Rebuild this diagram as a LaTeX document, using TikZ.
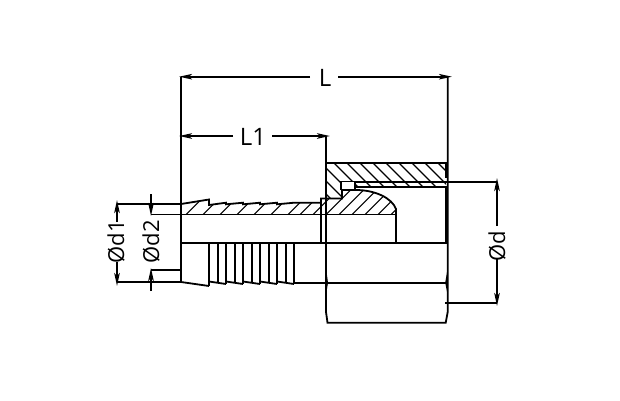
\documentclass[tikz,border=0pt]{standalone}
\usepackage{fontspec}
\setmainfont{Open Sans}
\usetikzlibrary{arrows.meta}
\tikzset{
  part/.style={line width=1.8pt,black,line join=miter},
  hatchline/.style={line width=1.1pt,black},
  dimline/.style={line width=1.8pt,black,-{Stealth[length=13pt,width=5.5pt,inset=3pt]}},
  lab/.style={font=\fontsize{22}{24}\selectfont,inner sep=0pt,text=black}
}
\begin{document}
\begin{tikzpicture}[x=1pt,y=-1pt]
\useasboundingbox (0,0) rectangle (620,400);
\fill[white] (0,0) rectangle (620,400);
% named points
\coordinate (ll) at (179,76.7);
\coordinate (lr) at (452,76.7);
\coordinate (l1l) at (179,136);
\coordinate (l1r) at (330,136);
\coordinate (d1t) at (117,200);
\coordinate (d1b) at (117,286);
\coordinate (d2t) at (151,216);
\coordinate (d2b) at (151,268);
\coordinate (d2ta) at (151,194);
\coordinate (d2ba) at (151,291);
\coordinate (dt) at (497,178);
\coordinate (db) at (497,306);
% labels
\node[lab] (L) at (325,78) {\fontsize{24}{26}\selectfont L};
\node[lab] (L1) at (253,137) {\fontsize{24}{26}\selectfont L1};
\node[lab,rotate=90] (D1) at (116,242) {Ød1};
\node[lab,rotate=90] (D2) at (151,242) {Ød2};
\node[lab,rotate=90] (D) at (497,246) {Ød};
% hatching: body
\begin{scope}
\clip (181,204) -- (209,199.5) -- (209,205) -- (226,202.7) -- (226,204.3) -- (243,202.7) -- (243,204.3) -- (260,202.7) -- (260,204.3) -- (277,202.7) -- (277,204.3) -- (294,202.7) -- (321,202.7) -- (321,198.5) -- (342,198.5) -- (342,190) -- (356,190) .. controls (375,190) and (392,198) .. (396,209) -- (396,214.7) -- (181,214.7) -- cycle;
\foreach \a in {186,203,220,237,254,271,288,300,313,326,339,352,365,378,391}
  \draw[hatchline] (\a,214.7) -- (\a+30,184.7);
\end{scope}
% hatching: nut
\begin{scope}
\clip (326,163) -- (446,163) -- (446,187) -- (355,187) -- (355,181.5) -- (341,181.5) -- (341,198.5) -- (326,198.5) -- cycle;
\foreach \a in {295,308,321,334,347,360,373,386,399,412,425,438}
  \draw[hatchline] (\a,163) -- (\a+40,203);
\end{scope}
% body outline
\draw[part] (181,204) -- (209,199.5) -- (209,205) -- (226,202.7) -- (226,204.3) -- (243,202.7) -- (243,204.3) -- (260,202.7) -- (260,204.3) -- (277,202.7) -- (277,204.3) -- (294,202.7) -- (321,202.7) -- (321,198.5) -- (342,198.5) -- (342,190);
\draw[part] (342,190) -- (356,190) .. controls (375,190) and (392,198) .. (396,209) -- (396,243);
\draw[part] (151,214.5) -- (396,214.5);
\draw[part] (321,198.5) -- (321,243);
\draw[part] (181,243) -- (448,243);
% lower barbs
\foreach \x in {217.7,234.7,251.7,268.7,285.7}
  \draw[line width=1.8pt] (\x,243) -- (\x,283);
\foreach \x in {226,243,260,277,294}
  \draw[part] (\x,243) -- (\x,284);
\draw[part] (209,243) -- (209,286);
\draw[part] (181,282) -- (209,286);
\draw[part] (209,281.5) -- (226,284) (226,281.5) -- (243,284) (243,281.5) -- (260,284) (260,281.5) -- (277,284) (277,281.5) -- (294,284);
\draw[part] (294,282.7) -- (448,282.7);
% nut
\draw[part] (326,136) -- (326,243);
\draw[part] (326,163) -- (445.7,163) -- (445.7,178);
\draw[part] (341,190) -- (341,181.5) -- (355,181.5) -- (355,190);
\draw[part] (355,182.3) -- (497,182.3);
\draw[part] (355,187) -- (445.7,187) -- (445.7,243);
\draw[part] (181,76.7) -- (181,282);
\draw[part] (447.7,76.7) -- (447.7,312) -- (445.7,322.7) -- (327.5,322.7) -- (326,312) -- (326,243);
\draw[part] (445,302.7) -- (497,302.7);
% small swell at hexagon edges
\fill (326,268) -- (328,282.7) -- (326,295) -- cycle;
\fill (447.7,268) -- (445.2,282.7) -- (447.7,295) -- cycle;
% dimension extension lines
\draw[part] (117,204) -- (181,204);
\draw[part] (117,282) -- (181,282);
\draw[part] (151,270) -- (181,270);
% dimensions
\draw[dimline] (310,76.7) -- (ll);
\draw[dimline] (338,76.7) -- (lr);
\draw[dimline] (233,136) -- (l1l);
\draw[dimline] (272,136) -- (l1r);
\draw[dimline] (117,222) -- (d1t);
\draw[dimline] (117,262) -- (d1b);
\draw[dimline] (d2ta) -- (d2t);
\draw[dimline] (d2ba) -- (d2b);
\draw[dimline] (497,226) -- (dt);
\draw[dimline] (497,259) -- (db);
\end{tikzpicture}
\end{document}
